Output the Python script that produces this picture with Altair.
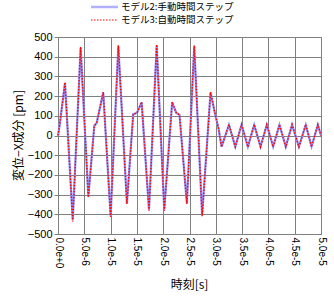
import altair as alt
import pandas as pd

# time [s] and displacement X [pm]
t = [0.0, 0.35e-6, 1.33e-6, 2.8e-6, 4.3e-6, 5.77e-6, 6.9e-6, 7.35e-6, 8.6e-6,
     1.0e-5, 1.147e-5, 1.31e-5, 1.43e-5, 1.5e-5, 1.59e-5, 1.73e-5, 1.876e-5,
     2.02e-5, 2.17e-5, 2.25e-5, 2.31e-5, 2.45e-5, 2.59e-5, 2.74e-5, 2.9e-5,
     2.99e-5, 3.05e-5, 3.11e-5, 3.25e-5, 3.37e-5, 3.49e-5, 3.61e-5, 3.73e-5,
     3.85e-5, 3.97e-5, 4.09e-5, 4.21e-5, 4.33e-5, 4.45e-5, 4.58e-5, 4.71e-5,
     4.82e-5, 4.94e-5, 5.0e-5]
model2 = [0, 60, 266, -428, 444, -310, 50, 63, 218,
          -408, 452, -343, 109, 114, 168, -377, 457,
          -377, 168, 114, 105, -343, 452, -403, 218,
          105, 38, -56, 54, -56, 54, -56, 54,
          -56, 54, -56, 54, -56, 54, -56, 54,
          -56, 54, 0]
model3 = [0, 60, 270, -436, 450, -314, 50, 63, 220,
          -414, 458, -348, 109, 114, 170, -382, 462,
          -382, 170, 114, 105, -348, 458, -410, 220,
          105, 38, -58, 56, -58, 56, -58, 56,
          -58, 56, -58, 56, -58, 56, -58, 56,
          -58, 56, 0]
labels = ["モデル2:手動時間ステップ", "モデル3:自動時間ステップ"]

df = pd.DataFrame({"t": t + t, "v": model2 + model3,
                   "s": [labels[0]] * len(t) + [labels[1]] * len(t),
                   "o": list(range(len(t))) * 2})

FONT = "Liberation Sans"
JP = "Noto Sans CJK JP"

x = alt.X("t:Q", scale=alt.Scale(domain=[0, 5e-5], nice=False, zero=False),
          axis=alt.Axis(values=[i * 5e-6 for i in range(11)], format=".1e",
                        labelAngle=90, labelAlign="left", labelBaseline="middle",
                        labelPadding=3, title="時刻[s]", titleFont=JP,
                        titleFontSize=12, titleFontWeight="normal", titleColor="black",
                        titleX=131, titleY=50, titleAlign="center", titleBaseline="middle",
                        labelFont=FONT, labelFontSize=10, labelColor="black",
                        gridColor="#808080", gridOpacity=1, tickColor="#808080",
                        domainColor="#808080", tickSize=0, labelFlush=False,
                        labelOverlap=False))
y = alt.Y("v:Q", scale=alt.Scale(domain=[-500, 500], nice=False),
          axis=alt.Axis(values=list(range(-500, 501, 100)), title="変位−X成分 [pm]",
                        titleFont=JP, titleFontSize=12, titleFontWeight="normal",
                        titleColor="black", titleX=-40, titleY=98, titleAlign="center",
                        titleBaseline="middle",
                        labelFont=FONT, labelFontSize=11, labelColor="black",
                        gridColor="#808080", gridOpacity=1, tickColor="#808080",
                        domainColor="#808080", tickSize=4, labelPadding=2))

line2 = alt.Chart(df).transform_filter(alt.datum.s == labels[0]).mark_line(
    color="#8c8cff", strokeWidth=2.2).encode(x=x, y=y, order="o:Q")
line3 = alt.Chart(df).transform_filter(alt.datum.s == labels[1]).mark_line(
    color="#ff0000", strokeWidth=1.4, strokeDash=[1.5, 1.5]).encode(x=x, y=y, order="o:Q")

leg = pd.DataFrame({"s": labels, "y": [-30, -17]})
leg2 = alt.Chart(leg.iloc[[0]]).mark_rule(color="#b0b0ff", strokeWidth=2.5).encode(
    x=alt.value(33), x2=alt.value(60), y=alt.value(-30))
leg3 = alt.Chart(leg.iloc[[1]]).mark_rule(color="#ff0000", strokeWidth=1.2,
                                         strokeDash=[1.5, 1.5]).encode(
    x=alt.value(33), x2=alt.value(60), y=alt.value(-17))
legtxt = alt.Chart(leg).mark_text(align="left", baseline="middle", font=JP,
                                  fontSize=9.5, color="black").encode(
    x=alt.value(63), y=alt.Y("y:Q", scale=None), text="s:N")

chart = alt.layer(line2, line3, leg2, leg3, legtxt).properties(
    width=263, height=197,
    autosize=alt.AutoSizeParams(type="none"),
    padding={"left": 58, "top": 37, "right": 13, "bottom": 68},
).configure_view(stroke="#808080", strokeWidth=1).configure(background="white")

chart.save("out.html", embed_options={"renderer": "svg", "actions": False})
